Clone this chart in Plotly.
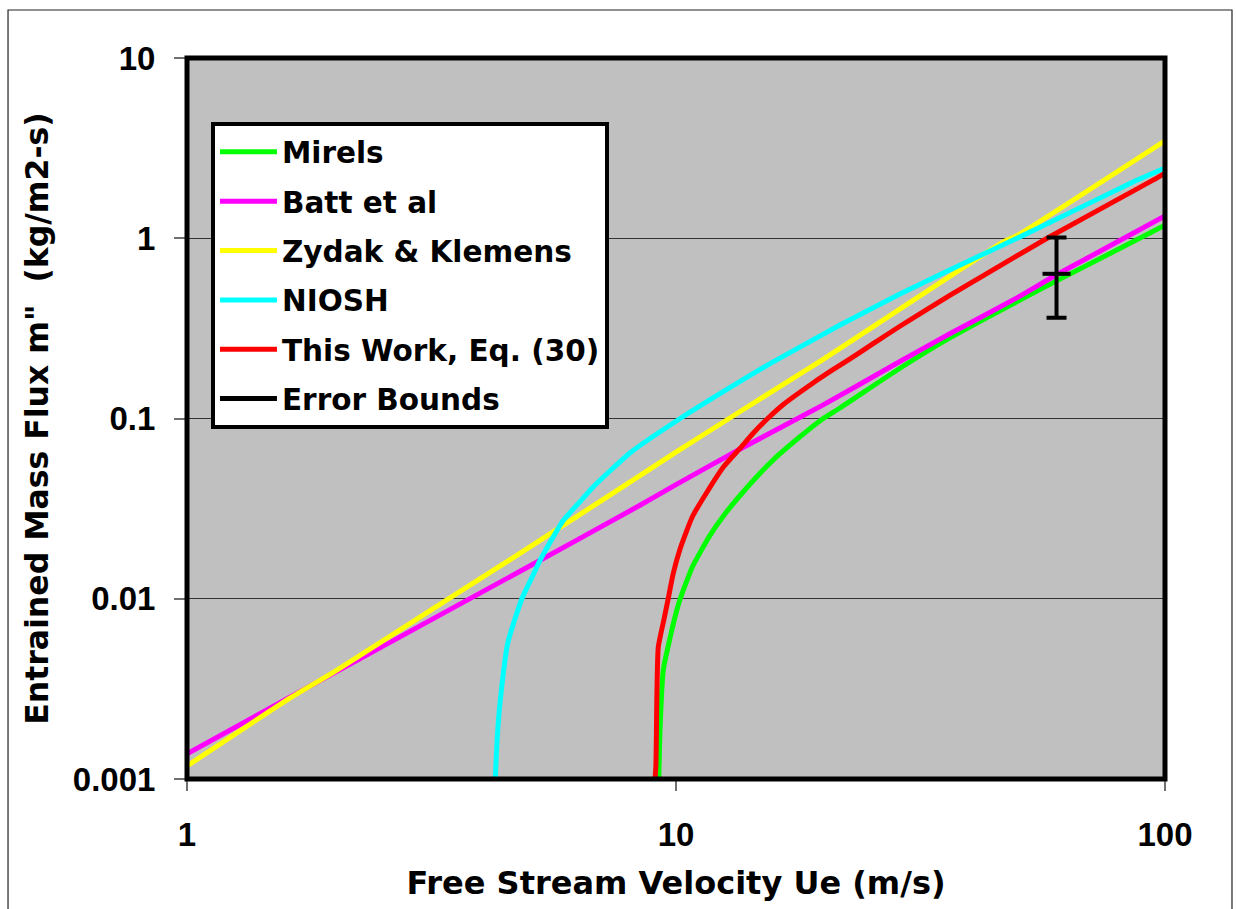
import plotly.graph_objects as go

# ---- data ----
mirels_x = [9.22, 9.28, 9.42, 9.95, 10.2, 10.8, 11.7, 12.5, 14.0, 15.8, 17.9, 20.0, 21.6, 28.7, 36.3, 60, 100]
mirels_y = [0.001, 0.00195, 0.00403, 0.0079, 0.01, 0.015, 0.0222, 0.0288, 0.0417, 0.0589, 0.0789, 0.1, 0.114, 0.19, 0.28, 0.58, 1.18]

batt_x = [1, 2, 5, 8.44, 10, 13.5, 20, 28.7, 36.3, 50, 60, 100]
batt_y = [0.00138, 0.00388, 0.0151, 0.033, 0.043, 0.0675, 0.119, 0.207, 0.295, 0.47, 0.627, 1.33]

zydak_x = [1, 1.62, 2, 3.45, 5, 10, 13.5, 20, 46.6, 50, 100]
zydak_y = [0.00118, 0.0028, 0.00393, 0.0101, 0.0192, 0.065, 0.109, 0.213, 0.95, 1.04, 3.47]

niosh_x = [4.27, 4.31, 4.37, 4.53, 4.84, 5.10, 5.27, 5.87, 6.36, 6.77, 8.05, 10.2, 13.5, 15.8, 21.6, 28.7, 34.7, 47.5, 55.5, 86, 100]
niosh_y = [0.001, 0.0017, 0.0027, 0.0057, 0.01, 0.0135, 0.0163, 0.027, 0.0345, 0.0417, 0.0644, 0.1, 0.16, 0.206, 0.329, 0.49, 0.63, 0.94, 1.15, 2.05, 2.45]

work_x = [9.06, 9.10, 9.13, 9.20, 9.45, 9.64, 9.87, 10.2, 10.8, 11.6, 12.5, 13.5, 14.4, 15.4, 16.6, 19.1, 20.9, 23.4, 25.3, 28.7, 36.3, 57.4, 94.5, 100]
work_y = [0.001, 0.0012, 0.0024, 0.0054, 0.0077, 0.01, 0.0138, 0.019, 0.0285, 0.0395, 0.0538, 0.068, 0.0831, 0.1, 0.12, 0.158, 0.186, 0.226, 0.26, 0.325, 0.482, 1.0, 2.10, 2.30]

err_x = [60]
err_y = [0.635]
err_plus = [0.375]
err_minus = [0.273]

names = ["Mirels", "Batt et al", "Zydak & Klemens", "NIOSH", "This Work, Eq. (30)", "Error Bounds"]
colors = ["#00FF00", "#FF00FF", "#FFFF00", "#00FFFF", "#FF0000", "#000000"]

x_tickvals = [1, 10, 100]
x_ticktext = ["1", "10", "100"]
y_tickvals = [0.001, 0.01, 0.1, 1, 10]
y_ticktext = ["0.001", "0.01", "0.1", "1", "10"]

series = [(mirels_x, mirels_y), (batt_x, batt_y), (zydak_x, zydak_y), (niosh_x, niosh_y), (work_x, work_y)]

fig = go.Figure()
for i, (xs, ys) in enumerate(series):
    fig.add_trace(go.Scatter(
        x=xs, y=ys, mode="lines", name=names[i],
        line=dict(color=colors[i], width=5, shape="spline", smoothing=0.5),
        legendgroup="g%d" % i,
    ))

# error bar
fig.add_trace(go.Scatter(
    x=err_x, y=err_y, mode="markers", showlegend=False,
    marker=dict(symbol="line-ew", size=20, line=dict(color="black", width=4), color="black"),
    error_y=dict(type="data", array=err_plus, arrayminus=err_minus, color="black", thickness=4, width=10, visible=True),
))
# legend entry for error bounds
fig.add_trace(go.Scatter(
    x=[None], y=[None], mode="lines", name=names[5],
    line=dict(color="black", width=5), legendgroup="g5",
))

title_font = dict(family="DejaVu Sans", size=32, color="black", weight="bold")
ytitle_font = dict(family="DejaVu Sans", size=31.5, color="black", weight="bold")
tick_font = dict(family="Liberation Sans, Arial", size=33, color="black", weight="bold")

fig.update_layout(
    width=1236, height=909,
    margin=dict(l=187, r=71, t=58, b=130),
    paper_bgcolor="white",
    plot_bgcolor="#C0C0C0",
    showlegend=True,
    legend=dict(
        x=0.0245, y=0.911, xanchor="left", yanchor="top",
        bgcolor="white", bordercolor="black", borderwidth=4,
        font=dict(family="DejaVu Sans", size=29.5, color="black", weight="bold"),
        itemwidth=57, tracegroupgap=8, traceorder="grouped",
    ),
    xaxis=dict(
        type="log", range=[0, 2], automargin=False,
        tickvals=x_tickvals, ticktext=x_ticktext,
        ticks="outside", ticklen=11, tickwidth=1.5, tickcolor="#707070",
        showgrid=False, zeroline=False, showline=False,
        tickfont=tick_font, ticklabelstandoff=15,
        title=dict(text="Free Stream Velocity Ue (m/s)", font=title_font, standoff=20),
    ),
    yaxis=dict(
        type="log", range=[-3, 1], automargin=False,
        tickvals=y_tickvals, ticktext=y_ticktext,
        ticks="outside", ticklen=12, tickwidth=1.5, tickcolor="#707070",
        showgrid=True, gridcolor="#333333", gridwidth=1.2, zeroline=False, showline=False,
        tickfont=tick_font, ticklabelstandoff=12,
        title=dict(text="Entrained Mass Flux m\"  (kg/m2-s)", font=ytitle_font, standoff=14),
    ),
    shapes=[
        dict(type="rect", xref="paper", yref="paper", x0=0, x1=1, y0=0, y1=1,
             line=dict(color="black", width=5), layer="above"),
        dict(type="rect", xref="paper", yref="paper", x0=-0.183, x1=1.0685, y0=-0.19, y1=1.0666,
             line=dict(color="#222222", width=1.2), layer="above"),
    ],
)

fig.write_html("out.html")
